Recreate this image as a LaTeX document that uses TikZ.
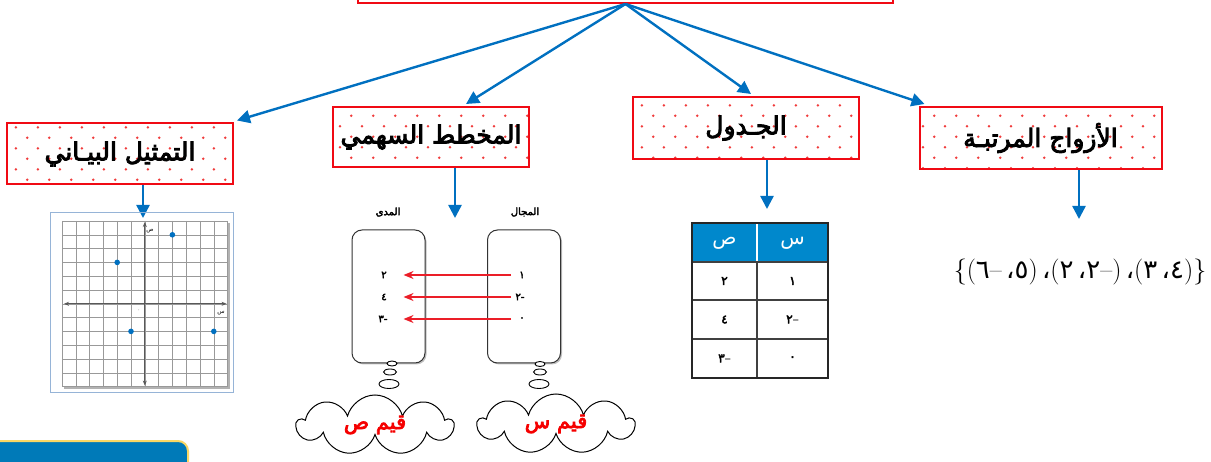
\documentclass[tikz,border=0pt]{standalone}
\usepackage{fontspec}
\usepackage{xcolor}
\usepackage{tikz}
\usetikzlibrary{arrows.meta,positioning,shapes.geometric,shapes.symbols,patterns.meta,shadows,calc}
\newfontfamily\arabicfont[Script=Arabic, BoldFont={DejaVu Sans}, BoldFeatures={FakeBold=3.5}]{DejaVu Sans}
\TeXXeTstate=1
\newcommand\ar[1]{\hbox{\arabicfont #1}}
\newcommand\gl[1]{\hbox{#1}}

\definecolor{linkblue}{RGB}{0,112,192}
\definecolor{boxred}{RGB}{240,10,20}
\definecolor{dotred}{RGB}{240,60,60}
\definecolor{mapred}{RGB}{235,30,40}
\definecolor{cloudred}{RGB}{245,0,0}
\definecolor{headblue}{RGB}{0,136,204}
\definecolor{framblue}{RGB}{150,180,215}
\definecolor{tabgold}{RGB}{250,215,100}

\pgfdeclarepattern{name=reddots, type=uncolored,
  bottom left={\pgfpoint{0pt}{0pt}}, top right={\pgfpoint{21.6pt}{21.4pt}},
  tile size={\pgfpoint{21.6pt}{21.4pt}},
  code={\pgfpathcircle{\pgfpoint{5.4pt}{5.35pt}}{1.4pt}
        \pgfpathcircle{\pgfpoint{16.2pt}{16.05pt}}{1.4pt}\pgfusepath{fill}}}

\begin{document}
\begin{tikzpicture}[x=1pt,y=-1pt,
  titlebox/.style={draw=boxred, line width=2pt, pattern=reddots, pattern color=dotred, inner sep=0pt,
    font=\fontsize{25}{28}\selectfont\arabicfont\bfseries},
  linkarrow/.style={draw=linkblue, line width=2.4pt, -{Triangle[length=13pt,width=13pt]}},
  maparrow/.style={draw=mapred, line width=2pt, -{Stealth[length=10pt,width=8pt]}},
  setbox/.style={draw=black!80, line width=1pt, rounded corners=10pt, fill=white,
    minimum width=73pt, minimum height=133pt,
    drop shadow={shadow xshift=1.5pt, shadow yshift=-1.5pt, fill=black!50, opacity=.5}},
  num/.style={font=\fontsize{10}{12}\selectfont\arabicfont\bfseries, inner sep=0pt},
  bubble/.style={ellipse, draw, line width=0.9pt, fill=white, inner sep=0pt},
  thought/.style={cloud, cloud puffs=9, aspect=2.6, draw, line width=1pt, inner sep=0pt,
    minimum width=156pt, minimum height=60pt, text=cloudred,
    font=\fontsize{21}{24}\selectfont\arabicfont\bfseries},
  cell/.style={font=\fontsize{12}{14}\selectfont\arabicfont\bfseries, inner sep=0pt},
  gridline/.style={draw=black!40, line width=0.5pt},
  axis/.style={draw=black!65, line width=0.9pt, {Stealth[length=5pt,width=4pt]}-{Stealth[length=5pt,width=4pt]}}
]
\useasboundingbox (0,0) rectangle (1211,462);

% Concept boxes
\node[titlebox, minimum width=535pt, minimum height=40pt, anchor=south] (main) at (625.5,4) {};
\node[titlebox, minimum width=226pt, minimum height=61pt] (graphbox) at (120,154) {\beginR التمثيل البيـاني\endR};
\node[titlebox, minimum width=196pt, minimum height=60pt] (arrowbox) at (431,137) {\beginR المخطط السهمي\endR};
\node[titlebox, minimum width=226pt, minimum height=62pt] (tablebox) at (746,128) {\beginR الجـدول\endR};
\node[titlebox, minimum width=242pt, minimum height=62pt] (pairsbox) at (1040.5,138) {\beginR الأزواج المرتبـة\endR};

% Branches
\draw[linkarrow] (main.south) -- ([xshift=3pt,yshift=2pt]graphbox.north east);
\draw[linkarrow] (main.south) -- ([xshift=35pt,yshift=2pt]arrowbox.north);
\draw[linkarrow] (main.south) -- ([xshift=5pt,yshift=2pt]tablebox.north);
\draw[linkarrow] (main.south) -- ([xshift=6pt,yshift=2pt]pairsbox.north west);

% Down arrows
\coordinate (gtip) at (143,218);
\coordinate (mtip) at (455,218);
\coordinate (ttip) at (767,209);
\coordinate (ptip) at (1079,219);
\draw[linkarrow] (graphbox.south -| gtip) -- (gtip);
\draw[linkarrow] (arrowbox.south -| mtip) -- (mtip);
\draw[linkarrow] (tablebox.south -| ttip) -- (ttip);
\draw[linkarrow] (pairsbox.south -| ptip) -- (ptip);

% Coordinate grid
\def\gx{62} \def\gy{221} \def\gs{13.8}
\node[draw=framblue, line width=1.6pt, minimum width=183pt, minimum height=180pt, inner sep=0pt] (gridframe) at (142,302.5) {};
\fill[black!30] (\gx+2,\gy+2) rectangle (\gx+12*\gs+2,\gy+12*\gs+2);
\fill[white] (\gx,\gy) rectangle (\gx+12*\gs,\gy+12*\gs);
\foreach \i in {0,...,12} {
  \draw[gridline] (\gx+\i*\gs,\gy) -- (\gx+\i*\gs,\gy+12*\gs);
  \draw[gridline] (\gx,\gy+\i*\gs) -- (\gx+12*\gs,\gy+\i*\gs);
}
\draw[axis] (\gx+6*\gs,\gy+1) -- (\gx+6*\gs,\gy+12*\gs-1);
\draw[axis] (\gx+2,\gy+6*\gs) -- (\gx+12*\gs-1,\gy+6*\gs);
\node[font=\fontsize{6}{7}\selectfont\arabicfont, inner sep=0pt] (ylab) at (150,231) {ص};
\node[font=\fontsize{6}{7}\selectfont\arabicfont, inner sep=0pt] (xlab) at (221,313) {س};
\node[font=\fontsize{4}{5}\selectfont\arabicfont, inner sep=0pt] (olab) at (139,311) {٠};
\foreach \a/\b in {2/5,-2/3,-1/-2,5/-2}
  \fill[linkblue] ({\gx+6*\gs+\a*\gs},{\gy+6*\gs-(\b)*\gs}) circle (2.8);

% Arrow diagram
\node[setbox] (rangeset) at (388.5,296.5) {};
\node[setbox] (domainset) at (524,296.5) {};
\node[num] (rangelab) at (388,212) {\beginR المدى\endR};
\node[num] (domainlab) at (525,212) {\beginR المجال\endR};
\node[num] (r1) at (384,275) {٢};
\node[num] (r2) at (384,297) {٤};
\node[num] (r3) at (383,319) {\ar{٣}\gl{-}};
\node[num] (d1) at (522,275) {١};
\node[num] (d2) at (520,297) {\ar{٢}\gl{-}};
\node[num] (d3) at (522,319) {٠};
\foreach \d/\r in {d1/r1,d2/r2,d3/r3}
  \draw[maparrow] ([xshift=24pt]domainset.west |- \d) -- ([xshift=-22pt]rangeset.east |- \r);

% Thought bubbles
\node[bubble, minimum width=10pt, minimum height=5pt] (rb1) at (392,363.5) {};
\node[bubble, minimum width=13pt, minimum height=6pt] (rb2) at (390,372) {};
\node[bubble, minimum width=20pt, minimum height=9pt] (rb3) at (389,384) {};
\node[bubble, minimum width=10pt, minimum height=5pt] (db1) at (540,364) {};
\node[bubble, minimum width=13pt, minimum height=6pt] (db2) at (540,372) {};
\node[bubble, minimum width=20pt, minimum height=9pt] (db3) at (539,384) {};
\node[thought] (rangecloud) at (375,425) {\beginR قيم ص\endR};
\node[thought] (domaincloud) at (556,424) {\beginR قيم س\endR};

% Table
\def\tl{692} \def\tm{757} \def\tr{828}
\fill[headblue] (\tl,223) rectangle (\tr,262);
\draw[white, line width=1.5pt] (\tm,224) -- (\tm,261);
\foreach \y in {300,339}
  \draw[black!75, line width=1.3pt] (\tl,\y) -- (\tr,\y);
\draw[black!75, line width=1.3pt] (\tl,262) -- (\tr,262);
\draw[black!75, line width=1.3pt] (\tm,262) -- (\tm,378);
\draw[black!85, line width=2.6pt] (\tl,223) rectangle (\tr,378);
\node[cell, text=white, font=\fontsize{20}{22}\selectfont\arabicfont] (hy) at (724.5,243) {ص};
\node[cell, text=white, font=\fontsize{20}{22}\selectfont\arabicfont] (hx) at (792.5,243) {س};
\node[cell] (ty1) at (724.5,281) {٢};
\node[cell] (tx1) at (792.5,281) {١};
\node[cell] (ty2) at (724.5,319.5) {٤};
\node[cell] (tx2) at (792.5,319.5) {\ar{\bfseries ٢}\gl{\textcolor{black!50}{–}}};
\node[cell] (ty3) at (724.5,358.5) {\ar{\bfseries ٣}\gl{\textcolor{black!50}{–}}};
\node[cell] (tx3) at (792.5,358.5) {٠};

% Ordered pairs
\node[font=\fontsize{26}{30}\selectfont, inner sep=0pt] (pairs) at (1080,272)
  {\gl{\{}\gl{(}\ar{٦}\gl{–}\,\ar{،}\ar{٥}\gl{)}\,\ar{،}\gl{(}\ar{٢}\,\ar{،}\ar{٢}\gl{–}\gl{)}\,\ar{،}\gl{(}\ar{٣}\,\ar{،}\ar{٤}\gl{)}\gl{\}}};

% Cut-off tab
\draw[tabgold, line width=2pt, fill=headblue!90!black, rounded corners=10pt] (-10,441) rectangle (188,490);
\end{tikzpicture}
\end{document}
